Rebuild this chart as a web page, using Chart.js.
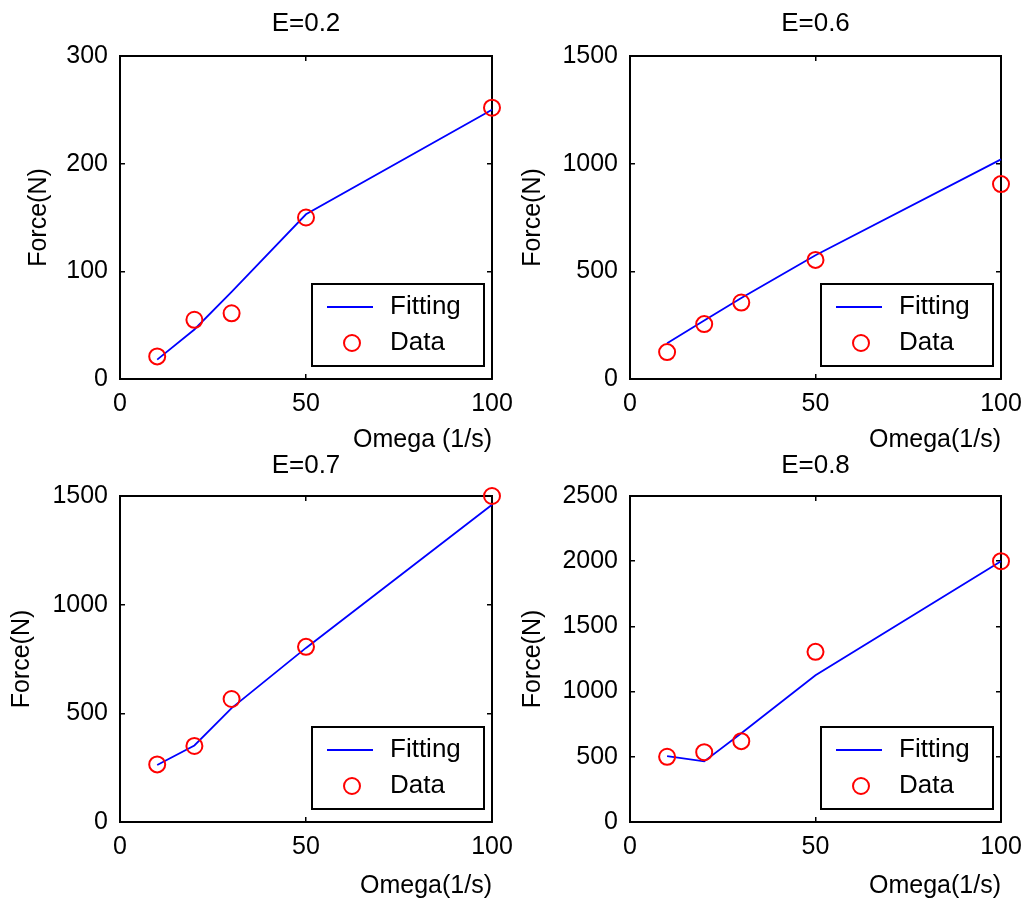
<!DOCTYPE html>
<html>
<head>
<meta charset="utf-8">
<script src="https://cdn.jsdelivr.net/npm/chart.js@4.4.1/dist/chart.umd.min.js"></script>
<style>
html, body { margin: 0; padding: 0; background: #ffffff; }
body { width: 1026px; height: 906px; position: relative; overflow: hidden; }
.panel { position: absolute; width: 513px; height: 453px; }
canvas { display: block; }
</style>
</head>
<body>
<div class="panel" style="left:0px;top:0px"><canvas id="c1" width="513" height="453"></canvas></div>
<div class="panel" style="left:513px;top:0px"><canvas id="c2" width="513" height="453"></canvas></div>
<div class="panel" style="left:0px;top:453px"><canvas id="c3" width="513" height="453"></canvas></div>
<div class="panel" style="left:513px;top:453px"><canvas id="c4" width="513" height="453"></canvas></div>
<script>
// ---- data ----
const omega = [10, 20, 30, 50, 100];
const titles = ['E=0.2', 'E=0.6', 'E=0.7', 'E=0.8'];
const xTitles = ['Omega (1/s)', 'Omega(1/s)', 'Omega(1/s)', 'Omega(1/s)'];
const yTitle = 'Force(N)';
const legendLabels = ['Fitting', 'Data'];

const dataE02 = [21, 55, 61, 150, 252];
const fitE02  = [18, 46, 81, 153, 250];
const dataE06 = [125, 255, 355, 553, 905];
const fitE06  = [166, 272, 376, 575, 1020];
const dataE07 = [265, 350, 566, 806, 1500];
const fitE07  = [262, 352, 524, 801, 1460];
const dataE08 = [500, 535, 620, 1305, 2000];
const fitE08  = [505, 465, 680, 1125, 2000];

const xMin = 0, xMax = 100, xStep = 50;
const yMaxes = [300, 1500, 1500, 2500];
const ySteps = [100, 500, 500, 500];

const seriesData = [dataE02, dataE06, dataE07, dataE08];
const seriesFit = [fitE02, fitE06, fitE07, fitE08];

// ---- layout (per panel, canvas coordinates) ----
const layouts = [
  { yw: 120, padR: 21, tTop: 10.5, tBot: 19.5, xh: 74, xtPad: 0.5, ytPad: 27 },
  { yw: 117, padR: 25, tTop: 10.5, tBot: 19.5, xh: 74, xtPad: 0.5, ytPad: 8 },
  { yw: 120, padR: 21, tTop: 0, tBot: 17, xh: 84, xtPad: 7.5, ytPad: 10 },
  { yw: 117, padR: 25, tTop: 0, tBot: 17, xh: 84, xtPad: 7.5, ytPad: 8 }
];

const FONT = "'Liberation Sans', Arial, Helvetica, sans-serif";
const fontTitle = { family: FONT, size: 26, weight: 'normal', lineHeight: 1 };
const fontLabel = { family: FONT, size: 25, weight: 'normal', lineHeight: 1 };
const fontTick = { family: FONT, size: 25, weight: 'normal', lineHeight: 1.2 };

const insideLegend = {
  id: 'insideLegend',
  afterDraw(chart) {
    const ctx = chart.ctx;
    const a = chart.chartArea;
    const w = 172, h = 82;
    const x0 = a.right - 8 - w, y0 = a.bottom - 13 - h;
    ctx.save();
    ctx.fillStyle = '#ffffff';
    ctx.fillRect(x0, y0, w, h);
    ctx.strokeStyle = '#000000';
    ctx.lineWidth = 2;
    ctx.strokeRect(x0, y0, w, h);
    const dsLine = chart.data.datasets[0];
    const dsPts = chart.data.datasets[1];
    const r1 = y0 + 23, r2 = y0 + 59;
    ctx.strokeStyle = dsLine.borderColor;
    ctx.lineWidth = dsLine.borderWidth;
    ctx.beginPath();
    ctx.moveTo(x0 + 15, r1);
    ctx.lineTo(x0 + 61, r1);
    ctx.stroke();
    ctx.strokeStyle = dsPts.pointBorderColor;
    ctx.lineWidth = dsPts.pointBorderWidth;
    ctx.beginPath();
    ctx.arc(x0 + 40, r2, dsPts.pointRadius, 0, Math.PI * 2);
    ctx.stroke();
    ctx.fillStyle = '#000000';
    ctx.font = '26px ' + FONT;
    ctx.textAlign = 'left';
    ctx.textBaseline = 'middle';
    ctx.fillText(dsLine.label, x0 + 78, r1);
    ctx.fillText(dsPts.label, x0 + 78, r2);
    ctx.restore();
  }
};

function plainTick(v) { return String(v); }

function makeChart(id, i) {
  const L = layouts[i];
  const fitPts = omega.map((x, k) => ({ x: x, y: seriesFit[i][k] }));
  const dataPts = omega.map((x, k) => ({ x: x, y: seriesData[i][k] }));
  const axisCommon = {
    grid: { drawOnChartArea: false, drawTicks: true, tickLength: -5, color: '#000000', lineWidth: 1.5 },
    border: { display: true, color: '#000000', width: 2 }
  };
  new Chart(document.getElementById(id), {
    type: 'scatter',
    data: {
      datasets: [
        {
          label: legendLabels[0],
          data: fitPts,
          showLine: true,
          borderColor: '#0000ff',
          borderWidth: 1.8,
          pointRadius: 0,
          fill: false,
          tension: 0,
          clip: false,
          order: 2
        },
        {
          label: legendLabels[1],
          data: dataPts,
          showLine: false,
          pointStyle: 'circle',
          pointRadius: 8,
          pointBorderWidth: 2,
          pointBorderColor: '#ff0000',
          pointBackgroundColor: 'rgba(0,0,0,0)',
          borderColor: '#ff0000',
          backgroundColor: 'rgba(0,0,0,0)',
          clip: false,
          order: 1
        }
      ]
    },
    options: {
      responsive: false,
      animation: false,
      devicePixelRatio: 1,
      events: [],
      layout: { padding: { left: 0, right: L.padR, top: 0, bottom: 0 } },
      plugins: {
        legend: { display: false },
        tooltip: { enabled: false },
        title: {
          display: true,
          text: titles[i],
          fullSize: false,
          color: '#000000',
          font: fontTitle,
          padding: { top: L.tTop, bottom: L.tBot }
        }
      },
      scales: {
        x: Object.assign({}, axisCommon, {
          type: 'linear', position: 'bottom', min: xMin, max: xMax,
          ticks: { stepSize: xStep, color: '#000000', font: fontTick, padding: 15, maxRotation: 0, callback: plainTick },
          title: { display: true, text: xTitles[i], align: 'end', color: '#000000', font: fontLabel, padding: { top: 0, bottom: L.xtPad } },
          afterFit: s => { s.height = L.xh; s.paddingLeft = 0; s.paddingRight = 0; }
        }),
        y: Object.assign({}, axisCommon, {
          type: 'linear', position: 'left', min: 0, max: yMaxes[i],
          ticks: { stepSize: ySteps[i], color: '#000000', font: fontTick, padding: 17, callback: plainTick },
          title: { display: true, text: yTitle, color: '#000000', font: fontLabel, padding: { top: L.ytPad, bottom: 0 } },
          afterFit: s => { s.width = L.yw; s.paddingTop = 0; s.paddingBottom = 0; }
        }),
        x2: Object.assign({}, axisCommon, {
          type: 'linear', position: 'top', min: xMin, max: xMax,
          ticks: { display: false, stepSize: xStep },
          afterFit: s => { s.height = 0; s.paddingLeft = 0; s.paddingRight = 0; }
        }),
        y2: Object.assign({}, axisCommon, {
          type: 'linear', position: 'right', min: 0, max: yMaxes[i],
          ticks: { display: false, stepSize: ySteps[i] },
          afterFit: s => { s.width = 0; s.paddingTop = 0; s.paddingBottom = 0; }
        })
      }
    },
    plugins: [insideLegend]
  });
}

makeChart('c1', 0);
makeChart('c2', 1);
makeChart('c3', 2);
makeChart('c4', 3);
</script>
</body>
</html>
